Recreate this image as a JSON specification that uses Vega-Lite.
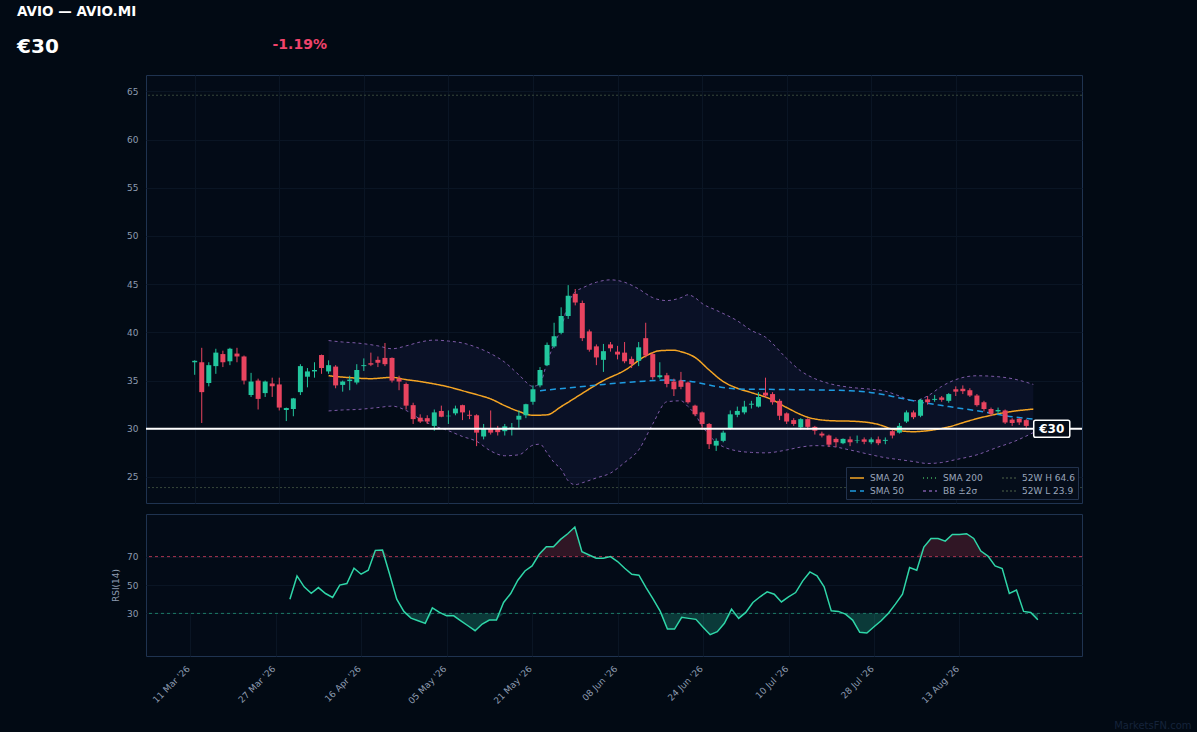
{
  "$schema": "https://vega.github.io/schema/vega-lite/v6.json",
  "background": "#020a14",
  "padding": {"left": 17, "top": 5, "right": 5, "bottom": 0},
  "title": {
    "text": "AVIO — AVIO.MI",
    "subtitle": "€30",
    "anchor": "start",
    "fontSize": 13.5,
    "fontWeight": "bold",
    "color": "#ffffff",
    "subtitleFontSize": 20,
    "subtitleFontWeight": "bold",
    "subtitleColor": "#ffffff",
    "subtitlePadding": 18,
    "dx": -94,
    "offset": -19
  },
  "resolve": {"legend": {"color": "independent", "strokeDash": "independent"}},
  "datasets": {
    "ohlc": [
      {"i":0,"o":36.9,"h":37.1,"l":35.6,"c":37.05},{"i":1,"o":36.9,"h":38.4,"l":30.6,"c":33.8},
      {"i":2,"o":34.75,"h":36.9,"l":34.4,"c":36.6},{"i":3,"o":36.5,"h":38.3,"l":35.7,"c":37.9},
      {"i":4,"o":37.75,"h":38.1,"l":36.4,"c":36.9},{"i":5,"o":37.0,"h":38.4,"l":36.6,"c":38.3},
      {"i":6,"o":37.8,"h":38.4,"l":36.9,"c":37.5},{"i":7,"o":37.5,"h":37.6,"l":34.6,"c":35.0},
      {"i":8,"o":33.5,"h":35.8,"l":33.3,"c":34.9},{"i":9,"o":35.0,"h":35.2,"l":32.0,"c":33.1},
      {"i":10,"o":33.7,"h":35.0,"l":33.3,"c":34.9},{"i":11,"o":34.7,"h":35.3,"l":33.3,"c":34.4},
      {"i":12,"o":34.6,"h":35.3,"l":31.9,"c":32.2},{"i":13,"o":31.95,"h":32.2,"l":30.8,"c":32.15},
      {"i":14,"o":32.05,"h":33.2,"l":31.3,"c":33.15},{"i":15,"o":33.8,"h":36.7,"l":33.5,"c":36.5},
      {"i":16,"o":35.4,"h":36.3,"l":34.3,"c":35.95},{"i":17,"o":35.95,"h":36.9,"l":35.3,"c":36.1},
      {"i":18,"o":37.65,"h":37.7,"l":35.7,"c":36.3},{"i":19,"o":35.95,"h":37.1,"l":35.7,"c":36.6},
      {"i":20,"o":36.45,"h":36.6,"l":34.2,"c":34.5},{"i":21,"o":34.55,"h":35.0,"l":33.85,"c":34.9},
      {"i":22,"o":34.95,"h":35.5,"l":34.0,"c":35.1},{"i":23,"o":34.8,"h":36.7,"l":34.6,"c":36.1},
      {"i":24,"o":36.5,"h":37.3,"l":36.0,"c":36.6},{"i":25,"o":36.8,"h":37.9,"l":36.5,"c":36.65},
      {"i":26,"o":37.15,"h":37.5,"l":36.4,"c":36.85},{"i":27,"o":37.35,"h":38.9,"l":36.5,"c":36.7},
      {"i":28,"o":37.35,"h":37.4,"l":34.8,"c":35.0},{"i":29,"o":35.2,"h":35.5,"l":34.0,"c":34.9},
      {"i":30,"o":34.65,"h":34.8,"l":32.0,"c":32.4},{"i":31,"o":32.45,"h":32.7,"l":30.5,"c":31.0},
      {"i":32,"o":31.15,"h":31.5,"l":30.6,"c":30.75},{"i":33,"o":31.1,"h":31.4,"l":30.5,"c":30.75},
      {"i":34,"o":30.3,"h":32.0,"l":29.8,"c":31.7},{"i":35,"o":31.85,"h":32.4,"l":31.2,"c":31.25},
      {"i":36,"o":31.3,"h":31.9,"l":30.5,"c":31.35},{"i":37,"o":31.6,"h":32.4,"l":31.4,"c":32.1},
      {"i":38,"o":32.45,"h":32.5,"l":30.9,"c":31.7},{"i":39,"o":31.45,"h":31.9,"l":31.0,"c":31.35},
      {"i":40,"o":31.4,"h":31.5,"l":28.2,"c":29.6},{"i":41,"o":29.2,"h":30.5,"l":28.9,"c":30.05},
      {"i":42,"o":30.0,"h":31.9,"l":29.4,"c":29.6},{"i":43,"o":30.0,"h":30.3,"l":29.3,"c":29.65},
      {"i":44,"o":29.75,"h":30.5,"l":29.3,"c":30.25},{"i":45,"o":30.1,"h":30.6,"l":29.3,"c":30.15},
      {"i":46,"o":30.95,"h":31.9,"l":30.1,"c":31.35},{"i":47,"o":31.4,"h":32.6,"l":31.1,"c":32.55},
      {"i":48,"o":32.8,"h":34.5,"l":32.5,"c":34.1},{"i":49,"o":34.5,"h":36.4,"l":34.3,"c":36.1},
      {"i":50,"o":36.6,"h":38.95,"l":36.5,"c":38.7},{"i":51,"o":38.55,"h":41.0,"l":38.4,"c":39.6},
      {"i":52,"o":39.95,"h":42.6,"l":39.8,"c":41.7},{"i":53,"o":41.7,"h":44.9,"l":41.4,"c":43.8},
      {"i":54,"o":44.0,"h":44.5,"l":42.8,"c":43.1},{"i":55,"o":43.05,"h":43.3,"l":39.1,"c":39.4},
      {"i":56,"o":40.1,"h":40.3,"l":38.0,"c":38.2},{"i":57,"o":38.55,"h":38.75,"l":36.6,"c":37.4},
      {"i":58,"o":37.15,"h":38.8,"l":35.9,"c":38.05},{"i":59,"o":38.75,"h":39.0,"l":38.0,"c":38.35},
      {"i":60,"o":38.0,"h":38.6,"l":37.2,"c":37.7},{"i":61,"o":37.9,"h":39.0,"l":36.8,"c":37.0},
      {"i":62,"o":37.25,"h":37.5,"l":36.3,"c":36.7},{"i":63,"o":37.05,"h":39.0,"l":36.5,"c":38.45},
      {"i":64,"o":39.4,"h":41.0,"l":37.4,"c":37.6},{"i":65,"o":37.75,"h":37.9,"l":35.1,"c":35.35},
      {"i":66,"o":35.35,"h":36.9,"l":35.2,"c":35.55},{"i":67,"o":35.55,"h":35.8,"l":34.3,"c":34.65},
      {"i":68,"o":34.9,"h":35.2,"l":33.4,"c":34.1},{"i":69,"o":35.0,"h":35.9,"l":34.1,"c":34.35},
      {"i":70,"o":34.8,"h":34.9,"l":32.6,"c":32.75},{"i":71,"o":32.4,"h":32.5,"l":31.3,"c":31.5},
      {"i":72,"o":31.7,"h":31.8,"l":29.9,"c":30.5},{"i":73,"o":30.5,"h":30.6,"l":27.9,"c":28.4},
      {"i":74,"o":28.25,"h":29.0,"l":27.7,"c":28.75},{"i":75,"o":28.75,"h":29.8,"l":28.6,"c":29.6},
      {"i":76,"o":30.0,"h":31.9,"l":29.9,"c":31.5},{"i":77,"o":31.45,"h":32.3,"l":31.2,"c":31.85},
      {"i":78,"o":31.7,"h":32.9,"l":31.5,"c":32.3},{"i":79,"o":32.5,"h":32.9,"l":32.1,"c":32.6},
      {"i":80,"o":32.3,"h":33.8,"l":32.2,"c":33.3},{"i":81,"o":33.75,"h":35.3,"l":33.2,"c":33.45},
      {"i":82,"o":33.6,"h":33.8,"l":32.5,"c":32.75},{"i":83,"o":32.9,"h":33.1,"l":30.9,"c":31.35},
      {"i":84,"o":31.6,"h":31.7,"l":30.5,"c":30.75},{"i":85,"o":30.9,"h":31.1,"l":30.3,"c":30.5},
      {"i":86,"o":30.15,"h":31.1,"l":29.9,"c":31.0},{"i":87,"o":31.0,"h":31.1,"l":29.9,"c":30.2},
      {"i":88,"o":30.2,"h":30.3,"l":29.4,"c":29.8},{"i":89,"o":29.5,"h":29.7,"l":29.1,"c":29.3},
      {"i":90,"o":29.3,"h":29.4,"l":28.1,"c":28.35},{"i":91,"o":28.95,"h":29.1,"l":28.1,"c":28.6},
      {"i":92,"o":28.5,"h":29.0,"l":28.4,"c":28.95},{"i":93,"o":28.9,"h":29.2,"l":28.2,"c":28.6},
      {"i":94,"o":28.75,"h":29.3,"l":28.5,"c":28.8},{"i":95,"o":28.9,"h":29.1,"l":28.4,"c":28.65},
      {"i":96,"o":28.6,"h":29.1,"l":28.4,"c":28.9},{"i":97,"o":28.9,"h":29.2,"l":28.3,"c":28.5},
      {"i":98,"o":28.75,"h":29.1,"l":28.4,"c":28.85},{"i":99,"o":29.75,"h":30.0,"l":29.0,"c":29.3},
      {"i":100,"o":29.6,"h":30.6,"l":29.5,"c":30.3},{"i":101,"o":30.75,"h":31.9,"l":30.6,"c":31.7},
      {"i":102,"o":31.7,"h":31.9,"l":31.0,"c":31.2},{"i":103,"o":31.35,"h":33.1,"l":31.2,"c":33.0},
      {"i":104,"o":33.05,"h":33.4,"l":32.5,"c":32.75},{"i":105,"o":33.0,"h":33.5,"l":32.8,"c":33.1},
      {"i":106,"o":33.25,"h":33.4,"l":32.8,"c":33.0},{"i":107,"o":32.9,"h":33.7,"l":32.7,"c":33.6},
      {"i":108,"o":34.1,"h":34.4,"l":33.4,"c":33.85},{"i":109,"o":34.15,"h":34.5,"l":33.6,"c":33.9},
      {"i":110,"o":34.0,"h":34.2,"l":33.3,"c":33.45},{"i":111,"o":33.45,"h":33.6,"l":32.3,"c":32.45},
      {"i":112,"o":32.75,"h":32.9,"l":31.8,"c":32.05},{"i":113,"o":32.05,"h":32.2,"l":31.3,"c":31.55},
      {"i":114,"o":31.8,"h":32.2,"l":31.6,"c":31.95},{"i":115,"o":31.9,"h":32.0,"l":30.5,"c":30.65},
      {"i":116,"o":30.95,"h":31.1,"l":30.3,"c":30.6},{"i":117,"o":31.05,"h":31.1,"l":30.4,"c":30.66},
      {"i":118,"o":30.9,"h":31.0,"l":30.1,"c":30.3}
    ],
    "sma": [
      {"i":19,"s":"SMA 20","v":35.5},{"i":22,"s":"SMA 20","v":35.3},{"i":25,"s":"SMA 20","v":35.2},
      {"i":28,"s":"SMA 20","v":35.33},{"i":30,"s":"SMA 20","v":35.1},{"i":32,"s":"SMA 20","v":34.9},
      {"i":34,"s":"SMA 20","v":34.65},{"i":36,"s":"SMA 20","v":34.35},{"i":38,"s":"SMA 20","v":33.95},
      {"i":40,"s":"SMA 20","v":33.55},{"i":42,"s":"SMA 20","v":33.1},{"i":44,"s":"SMA 20","v":32.4},
      {"i":46,"s":"SMA 20","v":31.8},{"i":48,"s":"SMA 20","v":31.4},{"i":50,"s":"SMA 20","v":31.45},
      {"i":52,"s":"SMA 20","v":32.3},{"i":53,"s":"SMA 20","v":32.75},{"i":55,"s":"SMA 20","v":33.67},
      {"i":58,"s":"SMA 20","v":35.0},{"i":61,"s":"SMA 20","v":36.05},{"i":64,"s":"SMA 20","v":37.55},
      {"i":66,"s":"SMA 20","v":38.1},{"i":68,"s":"SMA 20","v":38.15},{"i":69,"s":"SMA 20","v":38.0},
      {"i":71,"s":"SMA 20","v":37.4},{"i":73,"s":"SMA 20","v":36.1},{"i":75,"s":"SMA 20","v":34.9},
      {"i":77,"s":"SMA 20","v":34.2},{"i":79,"s":"SMA 20","v":33.75},{"i":82,"s":"SMA 20","v":33.0},
      {"i":84,"s":"SMA 20","v":32.2},{"i":87,"s":"SMA 20","v":31.2},{"i":90,"s":"SMA 20","v":30.85},
      {"i":94,"s":"SMA 20","v":30.76},{"i":97,"s":"SMA 20","v":30.45},{"i":99,"s":"SMA 20","v":29.97},
      {"i":102,"s":"SMA 20","v":29.7},{"i":104,"s":"SMA 20","v":29.8},{"i":107,"s":"SMA 20","v":30.2},
      {"i":110,"s":"SMA 20","v":30.85},{"i":113,"s":"SMA 20","v":31.4},{"i":116,"s":"SMA 20","v":31.8},
      {"i":119,"s":"SMA 20","v":32.04},
      {"i":49,"s":"SMA 50","v":33.95},{"i":51,"s":"SMA 50","v":34.1},{"i":54,"s":"SMA 50","v":34.3},
      {"i":58,"s":"SMA 50","v":34.6},{"i":63,"s":"SMA 50","v":34.9},{"i":67,"s":"SMA 50","v":35.05},
      {"i":70,"s":"SMA 50","v":34.95},{"i":74,"s":"SMA 50","v":34.4},{"i":77,"s":"SMA 50","v":34.12},
      {"i":80,"s":"SMA 50","v":34.1},{"i":86,"s":"SMA 50","v":34.05},{"i":93,"s":"SMA 50","v":33.95},
      {"i":97,"s":"SMA 50","v":33.65},{"i":100,"s":"SMA 50","v":33.2},{"i":102,"s":"SMA 50","v":32.9},
      {"i":107,"s":"SMA 50","v":32.3},{"i":112,"s":"SMA 50","v":31.75},{"i":115,"s":"SMA 50","v":31.35},
      {"i":119,"s":"SMA 50","v":31.0}
    ],
    "bb": [
      {"i":19,"u":39.15,"l":31.85},{"i":21,"u":39.0,"l":31.95},{"i":23,"u":38.9,"l":32.0},
      {"i":26,"u":38.6,"l":32.2},{"i":28,"u":38.3,"l":32.35},{"i":30,"u":38.6,"l":31.9},
      {"i":32,"u":39.0,"l":31.0},{"i":34,"u":39.2,"l":30.3},{"i":36,"u":39.1,"l":29.8},
      {"i":38,"u":38.9,"l":29.2},{"i":40,"u":38.45,"l":28.7},{"i":42,"u":37.8,"l":27.7},
      {"i":44,"u":36.9,"l":27.2},{"i":46,"u":35.6,"l":27.3},{"i":48,"u":34.4,"l":28.3},
      {"i":49,"u":34.7,"l":28.4},{"i":50,"u":36.9,"l":27.5},{"i":51,"u":38.8,"l":26.5},
      {"i":52,"u":40.4,"l":25.8},{"i":53,"u":43.0,"l":24.6},{"i":54,"u":44.2,"l":24.2},
      {"i":55,"u":44.6,"l":24.4},{"i":57,"u":45.2,"l":24.9},{"i":59,"u":45.45,"l":25.4},
      {"i":61,"u":45.2,"l":26.5},{"i":63,"u":44.5,"l":27.8},{"i":65,"u":43.6,"l":30.5},
      {"i":67,"u":43.3,"l":32.8},{"i":69,"u":43.6,"l":32.9},{"i":70,"u":43.9,"l":32.3},
      {"i":71,"u":43.6,"l":31.5},{"i":72,"u":43.0,"l":30.3},{"i":74,"u":42.3,"l":28.6},
      {"i":77,"u":41.2,"l":27.7},{"i":79,"u":40.2,"l":27.55},{"i":81,"u":39.5,"l":27.5},
      {"i":84,"u":37.3,"l":27.8},{"i":86,"u":36.0,"l":28.1},{"i":88,"u":35.2,"l":28.25},
      {"i":90,"u":34.7,"l":28.2},{"i":93,"u":34.3,"l":27.8},{"i":96,"u":34.1,"l":27.3},
      {"i":98,"u":33.9,"l":27.0},{"i":100,"u":33.4,"l":26.8},{"i":102,"u":32.9,"l":26.6},
      {"i":104,"u":33.4,"l":26.4},{"i":106,"u":34.4,"l":26.5},{"i":108,"u":35.1,"l":26.8},
      {"i":111,"u":35.5,"l":27.3},{"i":114,"u":35.4,"l":28.1},{"i":116,"u":35.2,"l":28.6},
      {"i":119,"u":34.6,"l":29.6}
    ],
    "ref": [
      {"s":"52W H 64.6","v":64.6},
      {"s":"52W L 23.9","v":23.9}
    ],
    "last": [
      {"i":118,"p":30.0,"t":"€30"}
    ],
    "lvl": [
      {"r":70},
      {"r":30}
    ],
    "rsi": [
      {"i":14,"r":40.0},{"i":15,"r":56.4},{"i":16,"r":48.7},{"i":17,"r":44.2},{"i":18,"r":48.2},
      {"i":19,"r":44.0},{"i":20,"r":41.2},{"i":21,"r":49.9},{"i":22,"r":51.0},{"i":23,"r":61.8},
      {"i":24,"r":57.6},{"i":25,"r":60.4},{"i":26,"r":74.4},{"i":27,"r":74.7},{"i":28,"r":57.6},
      {"i":29,"r":40.0},{"i":30,"r":31.4},{"i":31,"r":26.7},{"i":32,"r":24.8},{"i":33,"r":23.0},
      {"i":34,"r":33.9},{"i":35,"r":30.7},{"i":36,"r":28.3},{"i":37,"r":28.3},{"i":38,"r":24.8},
      {"i":39,"r":21.3},{"i":40,"r":17.8},{"i":41,"r":22.5},{"i":42,"r":25.3},{"i":43,"r":25.3},
      {"i":44,"r":37.7},{"i":45,"r":44.0},{"i":46,"r":53.4},{"i":47,"r":59.9},{"i":48,"r":63.4},
      {"i":49,"r":71.6},{"i":50,"r":77.0},{"i":51,"r":77.0},{"i":52,"r":82.1},{"i":53,"r":86.1},
      {"i":54,"r":90.8},{"i":55,"r":73.5},{"i":56,"r":71.1},{"i":57,"r":68.8},{"i":58,"r":68.8},
      {"i":59,"r":70.0},{"i":60,"r":66.5},{"i":61,"r":61.8},{"i":62,"r":57.6},{"i":63,"r":56.9},
      {"i":64,"r":48.2},{"i":65,"r":40.0},{"i":66,"r":31.4},{"i":67,"r":19.0},{"i":68,"r":19.0},
      {"i":69,"r":27.2},{"i":70,"r":26.5},{"i":71,"r":25.8},{"i":72,"r":20.2},{"i":73,"r":15.0},
      {"i":74,"r":17.1},{"i":75,"r":23.0},{"i":76,"r":33.0},{"i":77,"r":26.5},{"i":78,"r":30.7},
      {"i":79,"r":37.7},{"i":80,"r":41.7},{"i":81,"r":45.2},{"i":82,"r":43.5},{"i":83,"r":38.1},
      {"i":84,"r":41.7},{"i":85,"r":44.7},{"i":86,"r":52.9},{"i":87,"r":59.2},{"i":88,"r":56.4},
      {"i":89,"r":48.7},{"i":90,"r":31.8},{"i":91,"r":31.4},{"i":92,"r":29.5},{"i":93,"r":25.3},
      {"i":94,"r":16.7},{"i":95,"r":16.2},{"i":96,"r":20.6},{"i":97,"r":24.8},{"i":98,"r":30.0},
      {"i":99,"r":36.5},{"i":100,"r":43.5},{"i":101,"r":62.3},{"i":102,"r":60.4},{"i":103,"r":76.7},
      {"i":104,"r":82.8},{"i":105,"r":82.8},{"i":106,"r":80.9},{"i":107,"r":85.6},{"i":108,"r":85.6},
      {"i":109,"r":86.1},{"i":110,"r":82.8},{"i":111,"r":73.9},{"i":112,"r":70.4},{"i":113,"r":63.4},
      {"i":114,"r":61.6},{"i":115,"r":44.0},{"i":116,"r":46.4},{"i":117,"r":31.4},{"i":118,"r":30.7},
      {"i":119,"r":25.5}
    ]
  },
  "spacing": 9,
  "vconcat": [
    {
      "width": 936,
      "height": 428,
      "title": {
        "text": "-1.19%",
        "anchor": "start",
        "color": "#f0436b",
        "fontSize": 14,
        "fontWeight": "bold",
        "dx": 146,
        "offset": 23
      },
      "layer": [
        {
          "data": {"name": "bb"},
          "mark": {"type": "area", "color": "#2c2c70", "opacity": 0.18, "interpolate": "monotone"},
          "encoding": {
            "x": {"field": "i", "type": "quantitative", "title": null, "scale": {"domain": [-6.2, 125.2], "nice": false, "zero": false},
                  "axis": {"values": [0, 12, 24, 36, 48, 60, 72, 84, 96, 108], "labels": false, "grid": true}},
            "y": {"field": "u", "type": "quantitative", "title": null, "scale": {"domain": [22.3, 66.7], "nice": false, "zero": false},
                  "axis": {"grid": true, "values": [25, 30, 35, 40, 45, 50, 55, 60, 65]}},
            "y2": {"field": "l"}
          }
        },
        {
          "data": {"name": "ref"},
          "mark": {"type": "rule", "strokeWidth": 1},
          "encoding": {
            "y": {"field": "v", "type": "quantitative", "title": null, "scale": {"domain": [22.3, 66.7], "nice": false, "zero": false}},
            "color": {"field": "s", "type": "nominal", "legend": {"title": null},
                      "scale": {"domain": ["SMA 20", "SMA 50", "SMA 200", "BB ±2σ", "52W H 64.6", "52W L 23.9"],
                                "range": ["#f5a524", "#1e9be0", "#3faa5c", "#7d5aa6", "#37473a", "#37473a"]}},
            "strokeDash": {"field": "s", "type": "nominal", "legend": {"title": null},
                           "scale": {"domain": ["SMA 20", "SMA 50", "SMA 200", "BB ±2σ", "52W H 64.6", "52W L 23.9"],
                                     "range": [[1, 0], [6, 4], [1, 3], [3, 3], [2, 2], [2, 2]]}}
          }
        },
        {
          "data": {"name": "bb"},
          "transform": [{"fold": ["u", "l"], "as": ["b", "bv"]}],
          "mark": {"type": "line", "strokeWidth": 1, "interpolate": "monotone"},
          "encoding": {
            "x": {"field": "i", "type": "quantitative", "title": null, "scale": {"domain": [-6.2, 125.2], "nice": false, "zero": false}},
            "y": {"field": "bv", "type": "quantitative", "title": null, "scale": {"domain": [22.3, 66.7], "nice": false, "zero": false}},
            "detail": {"field": "b"},
            "color": {"datum": "BB ±2σ", "type": "nominal", "legend": {"title": null},
                      "scale": {"domain": ["SMA 20", "SMA 50", "SMA 200", "BB ±2σ", "52W H 64.6", "52W L 23.9"],
                                "range": ["#f5a524", "#1e9be0", "#3faa5c", "#7d5aa6", "#37473a", "#37473a"]}},
            "strokeDash": {"datum": "BB ±2σ", "type": "nominal", "legend": {"title": null},
                           "scale": {"domain": ["SMA 20", "SMA 50", "SMA 200", "BB ±2σ", "52W H 64.6", "52W L 23.9"],
                                     "range": [[1, 0], [6, 4], [1, 3], [3, 3], [2, 2], [2, 2]]}}
          }
        },
        {
          "data": {"name": "sma"},
          "mark": {"type": "line", "strokeWidth": 1.5, "interpolate": "monotone"},
          "encoding": {
            "x": {"field": "i", "type": "quantitative", "title": null, "scale": {"domain": [-6.2, 125.2], "nice": false, "zero": false}},
            "y": {"field": "v", "type": "quantitative", "title": null, "scale": {"domain": [22.3, 66.7], "nice": false, "zero": false}},
            "color": {"field": "s", "type": "nominal", "legend": {"title": null},
                      "scale": {"domain": ["SMA 20", "SMA 50", "SMA 200", "BB ±2σ", "52W H 64.6", "52W L 23.9"],
                                "range": ["#f5a524", "#1e9be0", "#3faa5c", "#7d5aa6", "#37473a", "#37473a"]}},
            "strokeDash": {"field": "s", "type": "nominal", "legend": {"title": null},
                           "scale": {"domain": ["SMA 20", "SMA 50", "SMA 200", "BB ±2σ", "52W H 64.6", "52W L 23.9"],
                                     "range": [[1, 0], [6, 4], [1, 3], [3, 3], [2, 2], [2, 2]]}}
          }
        },
        {
          "data": {"name": "ohlc"},
          "mark": {"type": "rule", "strokeWidth": 1},
          "encoding": {
            "x": {"field": "i", "type": "quantitative", "title": null, "scale": {"domain": [-6.2, 125.2], "nice": false, "zero": false}},
            "y": {"field": "l", "type": "quantitative", "title": null, "scale": {"domain": [22.3, 66.7], "nice": false, "zero": false}},
            "y2": {"field": "h"},
            "color": {"condition": {"test": "datum.c >= datum.o", "value": "#22c79e"}, "value": "#e8445f"}
          }
        },
        {
          "data": {"name": "ohlc"},
          "mark": {"type": "bar", "size": 5},
          "encoding": {
            "x": {"field": "i", "type": "quantitative", "title": null, "scale": {"domain": [-6.2, 125.2], "nice": false, "zero": false}},
            "y": {"field": "o", "type": "quantitative", "title": null, "scale": {"domain": [22.3, 66.7], "nice": false, "zero": false}},
            "y2": {"field": "c"},
            "color": {"condition": {"test": "datum.c >= datum.o", "value": "#22c79e"}, "value": "#e8445f"}
          }
        },
        {
          "data": {"name": "last"},
          "mark": {"type": "rule", "strokeWidth": 2, "color": "#ffffff"},
          "encoding": {
            "y": {"field": "p", "type": "quantitative", "title": null, "scale": {"domain": [22.3, 66.7], "nice": false, "zero": false}}
          }
        },
        {
          "data": {"name": "last"},
          "mark": {"type": "point", "shape": "M-0.9,-0.47L0.9,-0.47Q1,-0.47 1,-0.37L1,0.37Q1,0.47 0.9,0.47L-0.9,0.47Q-1,0.47 -1,0.37L-1,-0.37Q-1,-0.47 -0.9,-0.47Z",
                   "size": 1300, "filled": true, "fill": "#050c18", "stroke": "#ffffff", "strokeWidth": 1.5, "opacity": 1, "xOffset": 25.5},
          "encoding": {
            "x": {"field": "i", "type": "quantitative", "title": null, "scale": {"domain": [-6.2, 125.2], "nice": false, "zero": false}},
            "y": {"field": "p", "type": "quantitative", "title": null, "scale": {"domain": [22.3, 66.7], "nice": false, "zero": false}}
          }
        },
        {
          "data": {"name": "last"},
          "mark": {"type": "text", "dx": 25.5, "fontSize": 12, "fontWeight": "bold", "color": "#ffffff", "align": "center", "baseline": "middle"},
          "encoding": {
            "x": {"field": "i", "type": "quantitative", "title": null, "scale": {"domain": [-6.2, 125.2], "nice": false, "zero": false}},
            "y": {"field": "p", "type": "quantitative", "title": null, "scale": {"domain": [22.3, 66.7], "nice": false, "zero": false}},
            "text": {"field": "t"}
          }
        }
      ]
    },
    {
      "width": 936,
      "height": 142,
      "title": {
        "text": "MarketsFN.com",
        "orient": "bottom",
        "anchor": "end",
        "fontSize": 10,
        "fontWeight": "normal",
        "color": "#15233a",
        "dx": 109,
        "offset": 15
      },
      "resolve": {"scale": {"y": "independent"}},
      "layer": [
        {
          "data": {"name": "rsi"},
          "mark": {"type": "area", "color": "#e8445f", "opacity": 0.2},
          "encoding": {
            "x": {"field": "i", "type": "quantitative", "title": null, "scale": {"domain": [-6.2, 125.2], "nice": false, "zero": false}},
            "y": {"field": "r", "type": "quantitative", "scale": {"domain": [70, 100], "range": [42.6, 0], "clamp": true, "nice": false, "zero": false}, "axis": null},
            "y2": {"datum": 70}
          }
        },
        {
          "data": {"name": "rsi"},
          "mark": {"type": "area", "color": "#22c79e", "opacity": 0.25},
          "encoding": {
            "x": {"field": "i", "type": "quantitative", "title": null, "scale": {"domain": [-6.2, 125.2], "nice": false, "zero": false}},
            "y": {"field": "r", "type": "quantitative", "scale": {"domain": [0, 30], "range": [142, 99.4], "clamp": true, "nice": false, "zero": false}, "axis": null},
            "y2": {"datum": 30}
          }
        },
        {
          "data": {"name": "lvl"},
          "mark": {"type": "rule", "strokeWidth": 1, "strokeDash": [3, 3]},
          "encoding": {
            "y": {"field": "r", "type": "quantitative", "scale": {"domain": [0, 100], "nice": false, "zero": false}, "axis": null},
            "color": {"condition": {"test": "datum.r > 50", "value": "#a8334f"}, "value": "#1b7a66"}
          }
        },
        {
          "data": {"name": "rsi"},
          "mark": {"type": "line", "color": "#2fd6a8", "strokeWidth": 1.5},
          "encoding": {
            "x": {"field": "i", "type": "quantitative", "title": null, "scale": {"domain": [-6.2, 125.2], "nice": false, "zero": false},
                  "axis": {"values": [0, 12, 24, 36, 48, 60, 72, 84, 96, 108], "grid": true, "labelAngle": -45, "labelOffset": -5,
                           "labelExpr": "[\"11 Mar '26\",\"27 Mar '26\",\"16 Apr '26\",\"05 May '26\",\"21 May '26\",\"08 Jun '26\",\"24 Jun '26\",\"10 Jul '26\",\"28 Jul '26\",\"13 Aug '26\"][round(datum.value/12)]"}},
            "y": {"field": "r", "type": "quantitative", "scale": {"domain": [0, 100], "nice": false, "zero": false},
                  "axis": {"title": "RSI(14)", "values": [30, 50, 70], "grid": true, "titlePadding": 6}}
          }
        }
      ]
    }
  ],
  "config": {
    "font": "DejaVu Sans",
    "view": {"fill": "#030b17", "stroke": "#1f3350", "strokeWidth": 1},
    "axis": {
      "domain": false,
      "ticks": false,
      "gridColor": "#0a1524",
      "gridWidth": 1,
      "labelColor": "#8d9bb0",
      "labelFontSize": 9,
      "labelPadding": 8,
      "titleColor": "#8d9bb0",
      "titleFontWeight": "normal",
      "titleFontSize": 9
    },
    "legend": {
      "orient": "bottom-right",
      "columns": 3,
      "fillColor": "#050d1a",
      "strokeColor": "#22324d",
      "padding": 3,
      "offset": 4,
      "labelColor": "#9aa6ba",
      "labelFontSize": 9,
      "labelOffset": 5,
      "symbolType": "stroke",
      "symbolSize": 196,
      "symbolStrokeWidth": 1.5,
      "columnPadding": 16,
      "rowPadding": 0
    }
  }
}
